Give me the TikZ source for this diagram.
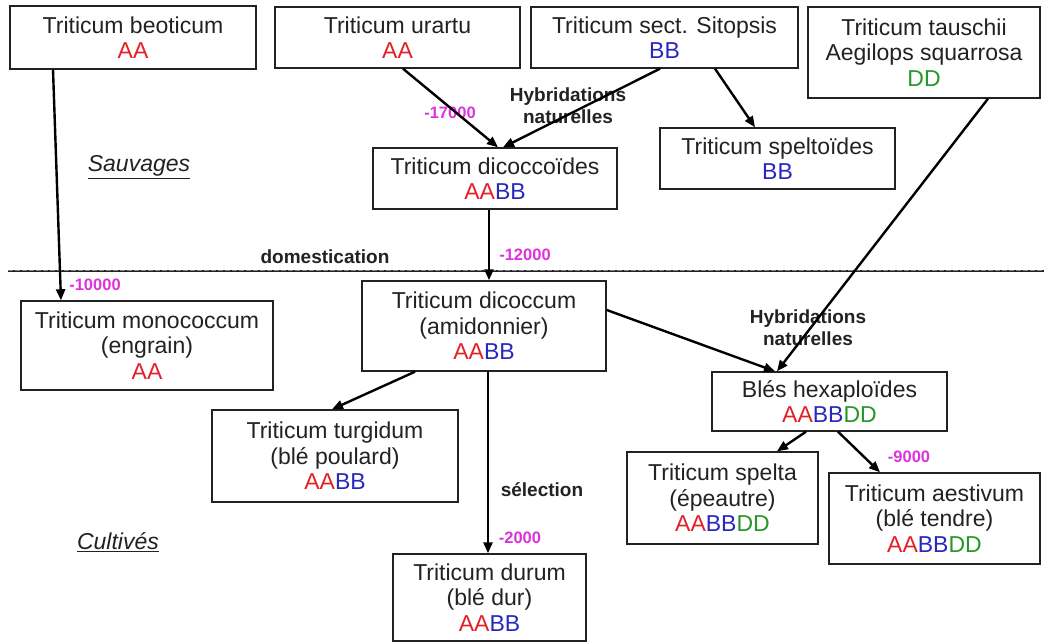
\documentclass[tikz,border=0pt]{standalone}
\usepackage{fontspec}
\setmainfont{Liberation Sans}
\usetikzlibrary{arrows.meta}

\definecolor{genomeA}{RGB}{226,32,38}
\definecolor{genomeB}{RGB}{40,40,190}
\definecolor{genomeD}{RGB}{40,150,40}
\definecolor{datecol}{RGB}{222,50,222}
\definecolor{ink}{RGB}{34,34,34}

\newcommand{\genA}{\textcolor{genomeA}{AA}}
\newcommand{\genB}{\textcolor{genomeB}{BB}}
\newcommand{\genD}{\textcolor{genomeD}{DD}}

\tikzset{
  taxon/.style={draw=ink, fill=white, line width=1.4pt, inner sep=0pt,
    align=center, text=ink, font=\fontsize{23}{25.5}\selectfont},
  lineage/.style={line width=2.4pt, draw=black,
    -{Triangle[length=11pt,width=9pt]}},
  datelabel/.style={text=datecol, font=\bfseries\fontsize{16.5}{18}\selectfont},
  eventlabel/.style={font=\bfseries\fontsize{19}{22}\selectfont, align=center, text=ink},
  eralabel/.style={font=\itshape\fontsize{23}{25}\selectfont, text=ink},
}

\begin{document}
\begin{tikzpicture}[x=1pt,y=-1pt]
\useasboundingbox[fill=white] (0,0) rectangle (1044,644);

% wild / cultivated boundary
\coordinate (sepL) at (8,271);
\coordinate (sepR) at (1044,271);
\draw[line width=2.4pt, ink] (sepL) -- (sepR);
\draw[line width=0.8pt, gray, dash pattern=on 5pt off 2pt] ([yshift=0.6pt]sepL) -- ([yshift=0.6pt]sepR);

% wild species
\node[taxon, minimum width=246, minimum height=63] (beo) at (133,37.5) {Triticum beoticum\\\genA};
\node[taxon, minimum width=245, minimum height=61] (ura) at (397.5,37.5) {Triticum urartu\\\genA};
\node[taxon, minimum width=267, minimum height=61] (sit) at (664.5,37.5) {Triticum sect. Sitopsis\\\genB};
\node[taxon, minimum width=232, minimum height=91] (tau) at (924,52.5) {Triticum tauschii\\Aegilops squarrosa\\\genD};
\node[taxon, minimum width=235, minimum height=61] (spo) at (777.5,158.5) {Triticum speltoïdes\\\genB};
\node[taxon, minimum width=244, minimum height=61] (dco) at (495,178.5) {Triticum dicoccoïdes\\\genA\genB};

% cultivated species
\node[taxon, minimum width=252, minimum height=89] (mon) at (147,345.5) {Triticum monococcum\\(engrain)\\\genA};
\node[taxon, minimum width=244, minimum height=90] (dic) at (484,326) {Triticum dicoccum\\(amidonnier)\\\genA\genB};
\node[taxon, minimum width=235, minimum height=59] (hex) at (829.5,401.5) {Blés hexaploïdes\\\genA\genB\genD};
\node[taxon, minimum width=246, minimum height=92] (tur) at (335,456) {Triticum turgidum\\(blé poulard)\\\genA\genB};
\node[taxon, minimum width=191, minimum height=92] (spe) at (722.5,498) {Triticum spelta\\(épeautre)\\\genA\genB\genD};
\node[taxon, minimum width=211, minimum height=91] (aes) at (934.5,518.5) {Triticum aestivum\\(blé tendre)\\\genA\genB\genD};
\node[taxon, minimum width=193, minimum height=87] (dur) at (489.5,597.5) {Triticum durum\\(blé dur)\\\genA\genB};

% section and event labels
\node[eralabel] (wild) at (139,167) {\underline{Sauvages}};
\node[eralabel] (crop) at (118,542) {\underline{Cultivés}};
\node[eventlabel] (hyb1) at (568,106) {Hybridations\\naturelles};
\node[eventlabel] (hyb2) at (808,328) {Hybridations\\naturelles};
\node[eventlabel] (dom) at (325,257) {domestication};
\node[eventlabel] (sel) at (542,490) {sélection};

\node[datelabel] (d17) at (450,113) {-17000};
\node[datelabel] (d12) at (525,255) {-12000};
\node[datelabel] (d10) at (95,285) {-10000};
\node[datelabel] (d2) at (520,538) {-2000};
\node[datelabel] (d9) at (909,457) {-9000};

% lineages
\draw[lineage] ([xshift=-80pt]beo.south) -- ([xshift=-86pt]mon.north);
\draw[lineage] ([xshift=5.5pt]ura.south) -- ([xshift=3pt]dco.north);
\draw[lineage] ([xshift=-4.5pt]sit.south) -- ([xshift=8pt]dco.north);
\draw[lineage] ([xshift=50.5pt]sit.south) -- ([xshift=-22.5pt]spo.north);
\draw[lineage] ([xshift=-6pt]dco.south) -- ([xshift=5pt]dic.north);
\draw[lineage] ([xshift=64pt]tau.south) -- ([xshift=-52.5pt]hex.north);
\draw[lineage] ([yshift=16pt]dic.east) -- ([xshift=-54.5pt]hex.north);
\draw[lineage] ([xshift=-69pt]dic.south) -- ([xshift=-3pt]tur.north);
\draw[lineage] ([xshift=4pt]dic.south) -- ([xshift=-1.5pt]dur.north);
\draw[lineage] ([xshift=-23.5pt]hex.south) -- ([xshift=54.5pt]spe.north);
\draw[lineage] ([xshift=8.5pt]hex.south) -- ([xshift=-54.5pt]aes.north);
\end{tikzpicture}
\end{document}
